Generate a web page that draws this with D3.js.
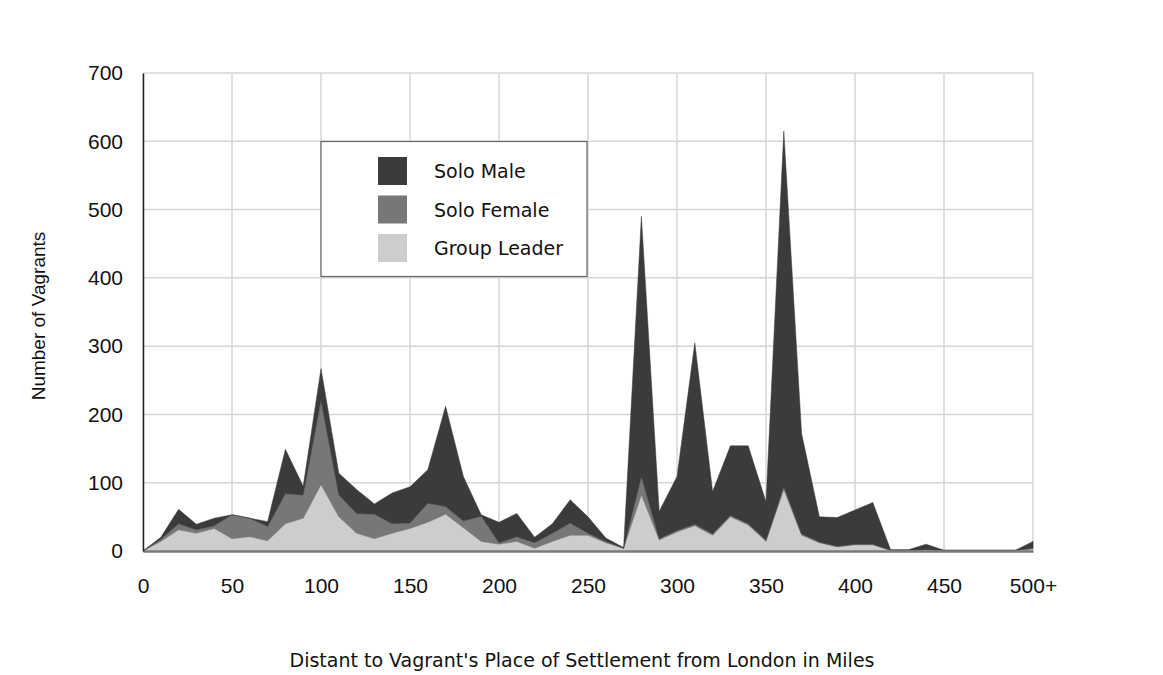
<!DOCTYPE html>
<html>
<head>
<meta charset="utf-8">
<script src="https://cdn.jsdelivr.net/npm/d3@7"></script>
<style>
  body { margin: 0; background: #fff; }
  .tick text { font-family: "Liberation Sans", Arial, sans-serif; }
</style>
</head>
<body>
<div class="container"></div>
<script>
const WIDTH = 1163;
const HEIGHT = 675;
const LEFT = 143, RIGHT = 1033, TOP = 73, BOTTOM = 551;

// distance from London, miles (last bucket is 500+)
const distances = [0, 10, 20, 30, 40, 50, 60, 70, 80, 90,
  100, 110, 120, 130, 140, 150, 160, 170, 180, 190,
  200, 210, 220, 230, 240, 250, 260, 270, 280, 290,
  300, 310, 320, 330, 340, 350, 360, 370, 380, 390,
  400, 410, 420, 430, 440, 450, 460, 470, 480, 490, 500];

const groupLeader = [0, 14, 31, 26, 33, 18, 21, 15, 40, 48,
  97, 50, 26, 18, 26, 33, 42, 54, 34, 14,
  10, 14, 4, 14, 23, 23, 12, 4, 82, 16,
  28, 37, 23, 50, 38, 14, 90, 23, 12, 6,
  9, 9, 1, 1, 2, 1, 1, 1, 1, 1, 3];

const soloFemale = [0, 3, 9, 5, 4, 35, 27, 21, 44, 34,
  124, 32, 29, 36, 14, 8, 28, 11, 10, 37,
  2, 7, 8, 12, 18, 3, 2, 0, 27, 2,
  2, 2, 2, 2, 2, 2, 4, 2, 1, 1,
  1, 1, 0, 0, 0, 0, 0, 0, 0, 0, 1];

const soloMale = [0, 3, 21, 8, 11, 0, 0, 7, 65, 13,
  46, 32, 35, 15, 45, 53, 49, 147, 65, 2,
  30, 34, 8, 14, 34, 24, 5, 1, 381, 40,
  79, 266, 62, 102, 114, 56, 521, 147, 37, 42,
  50, 61, 1, 1, 8, 0, 0, 0, 0, 0, 10];

const seriesNames = ["Solo Male", "Solo Female", "Group Leader"];
const seriesColors = ["#3b3b3b", "#777777", "#cdcdcd"];
const xTicks = [0, 50, 100, 150, 200, 250, 300, 350, 400, 450, 500];
const yTicks = [0, 100, 200, 300, 400, 500, 600, 700];

const rows = distances.map((d, i) => ({
  dist: d, group: groupLeader[i], female: soloFemale[i], male: soloMale[i]
}));

const xScale = d3.scaleLinear().domain([0, 500]).range([LEFT, RIGHT]);
const yScale = d3.scaleLinear().domain([0, 700]).range([BOTTOM, TOP]);

const svg = d3.select('.container').append('svg')
  .attr('width', WIDTH)
  .attr('height', HEIGHT);

// grid
svg.append('g').selectAll('line')
  .data(yTicks)
  .enter().append('line')
  .attr('x1', LEFT).attr('x2', RIGHT)
  .attr('y1', d => yScale(d)).attr('y2', d => yScale(d))
  .attr('stroke', '#d6d6d6').attr('stroke-width', 1.5);

svg.append('g').selectAll('line')
  .data(xTicks)
  .enter().append('line')
  .attr('x1', d => xScale(d)).attr('x2', d => xScale(d))
  .attr('y1', TOP).attr('y2', BOTTOM)
  .attr('stroke', '#d6d6d6').attr('stroke-width', 1.5);

// stacked areas
const stack = d3.stack().keys(["group", "female", "male"]);
const layers = stack(rows);
const layerColor = { group: seriesColors[2], female: seriesColors[1], male: seriesColors[0] };

const area = d3.area()
  .x(d => xScale(d.data.dist))
  .y0(d => yScale(d[0]))
  .y1(d => yScale(d[1]));

svg.append('g').selectAll('path')
  .data(layers)
  .enter().append('path')
  .attr('d', area)
  .attr('fill', d => layerColor[d.key])
  .attr('stroke', d => layerColor[d.key])
  .attr('stroke-width', 0.5);

// axes
const xAxis = d3.axisBottom(xScale)
  .tickValues(xTicks)
  .tickSize(0)
  .tickPadding(27)
  .tickFormat(d => d === 500 ? "500+" : d);

svg.append('g')
  .attr('transform', 'translate(0,' + BOTTOM + ')')
  .call(xAxis)
  .call(g => g.select('.domain').attr('stroke', '#7a7a7a').attr('stroke-width', 2.5))
  .call(g => g.selectAll('.tick text').attr('font-size', 21).attr('fill', '#111'));

const yAxis = d3.axisLeft(yScale)
  .tickValues(yTicks)
  .tickSize(0)
  .tickPadding(20);

svg.append('g')
  .attr('transform', 'translate(' + LEFT + ',0)')
  .call(yAxis)
  .call(g => g.select('.domain').attr('stroke', '#222').attr('stroke-width', 1.5))
  .call(g => g.selectAll('.tick text').attr('font-size', 21).attr('fill', '#111'));

// axis titles
svg.append('text')
  .attr('transform', 'translate(45,316) rotate(-90)')
  .attr('text-anchor', 'middle')
  .attr('font-family', '"Liberation Sans", Arial, sans-serif')
  .attr('font-size', 19)
  .attr('fill', '#111')
  .text('Number of Vagrants');

svg.append('text')
  .attr('x', 582).attr('y', 667)
  .attr('text-anchor', 'middle')
  .attr('font-family', '"DejaVu Sans", sans-serif')
  .attr('font-size', 19)
  .attr('fill', '#111')
  .text("Distant to Vagrant's Place of Settlement from London in Miles");

// legend
const legend = svg.append('g');
legend.append('rect')
  .attr('x', 321).attr('y', 141.5)
  .attr('width', 266).attr('height', 135)
  .attr('fill', '#fff')
  .attr('stroke', '#666').attr('stroke-width', 1.2);

const items = legend.selectAll('g.item')
  .data(seriesNames)
  .enter().append('g')
  .attr('transform', (d, i) => 'translate(0,' + (157 + i * 38.5) + ')');

items.append('rect')
  .attr('x', 378).attr('width', 29).attr('height', 28)
  .attr('fill', (d, i) => seriesColors[i]);

items.append('text')
  .attr('x', 434).attr('y', 21)
  .attr('font-family', '"DejaVu Sans", sans-serif')
  .attr('font-size', 19)
  .attr('fill', '#111')
  .text(d => d);
</script>
</body>
</html>
